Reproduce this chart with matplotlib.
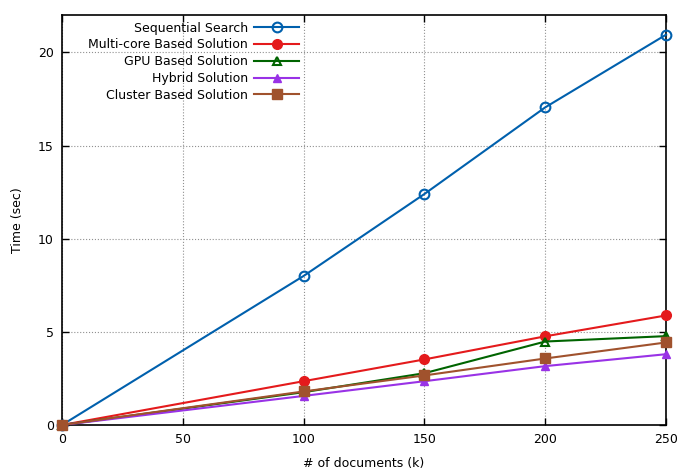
import matplotlib.pyplot as plt
import numpy as np

docs = [0, 100, 150, 200, 250]
sequential = [0, 8.0, 12.4, 17.05, 20.95]
multicore = [0, 2.35, 3.52, 4.76, 5.88]
gpu = [0, 1.76, 2.78, 4.48, 4.77]
hybrid = [0, 1.56, 2.35, 3.16, 3.8]
cluster = [0, 1.8, 2.66, 3.57, 4.43]

plt.rcParams['font.size'] = 9
fig = plt.figure(figsize=(6.78, 4.73), dpi=100)
ax = fig.add_axes([0.0914, 0.1015, 0.891, 0.8665])

ax.plot(docs, sequential, color='#0060ad', lw=1.5, marker='o', ms=7, mfc='none', mew=1.5,
        label='Sequential Search', clip_on=False, zorder=3)
ax.plot(docs, multicore, color='#e41a1c', lw=1.5, marker='o', ms=7,
        label='Multi-core Based Solution', clip_on=False, zorder=3)
ax.plot(docs, gpu, color='#006400', lw=1.5, marker='^', ms=6, mfc='none', mew=1.5,
        label='GPU Based Solution', clip_on=False, zorder=3)
ax.plot(docs, hybrid, color='#9932e6', lw=1.5, marker='^', ms=6,
        label='Hybrid Solution', clip_on=False, zorder=3)
ax.plot(docs, cluster, color='#a0522d', lw=1.5, marker='s', ms=7,
        label='Cluster Based Solution', clip_on=False, zorder=3)

ax.set_xlim(0, 250)
ax.set_ylim(0, 22)
ax.set_xticks(np.arange(0, 251, 50))
ax.set_yticks(np.arange(0, 21, 5))
ax.tick_params(direction='in', top=True, right=True, length=5, width=1, pad=6)
ax.grid(True, color='#909090', linestyle=':', linewidth=0.8)
for s in ax.spines.values():
    s.set_linewidth(1.2)

ax.set_xlabel('# of documents (k)', labelpad=8)
ax.set_ylabel('Time (sec)', labelpad=10)

leg = ax.legend(loc='upper right', bbox_to_anchor=(0.397, 0.99), frameon=False, markerfirst=False,
                handlelength=3.6, labelspacing=0.3, borderaxespad=0.0, borderpad=0.2,
                handletextpad=0.5)
for t in leg.get_texts():
    t.set_ha('right')
leg._legend_box.align = 'right'

fig.savefig('out.png', dpi=100)
